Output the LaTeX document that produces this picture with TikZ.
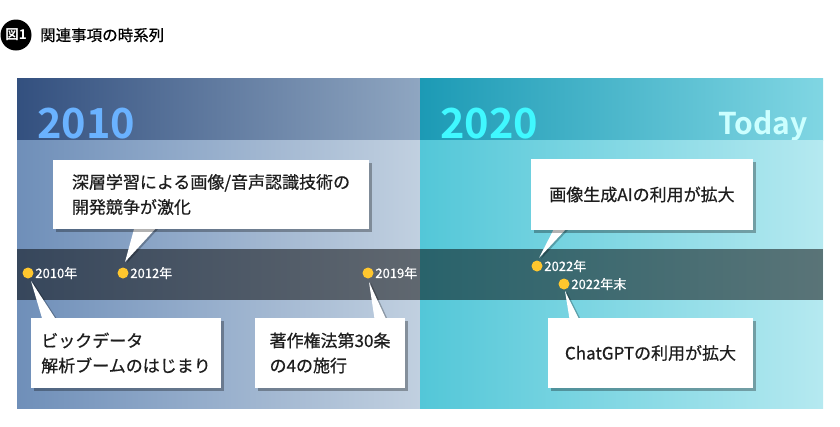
\documentclass[tikz,border=0pt]{standalone}
\usepackage{fontspec}
\setmainfont{Noto Sans CJK JP}[BoldFont={Noto Sans CJK JP Bold}]
\newfontfamily\mediumfont{Noto Sans CJK JP}[FakeBold=0.6]
\usepackage{tikz}
\usetikzlibrary{shadows}
\definecolor{hdrleftA}{HTML}{33507F}
\definecolor{hdrleftB}{HTML}{8FA6C1}
\definecolor{lowleftA}{HTML}{6F8FB9}
\definecolor{lowleftB}{HTML}{C1D0E0}
\definecolor{hdrrightA}{HTML}{1C9AB5}
\definecolor{hdrrightB}{HTML}{80D6E3}
\definecolor{lowrightA}{HTML}{53C7D8}
\definecolor{lowrightB}{HTML}{B5E9F0}
\definecolor{yearblue}{HTML}{6AB2FF}
\definecolor{yearcyan}{HTML}{40F8FF}
\definecolor{todaycyan}{HTML}{CCFFFF}
\definecolor{dotyellow}{HTML}{FFC72E}
\definecolor{notetext}{HTML}{1E1E1E}
\pgfdeclarelayer{front}
\pgfsetlayers{main,front}
\tikzset{
  decade/.style={font=\bfseries\fontsize{41.5}{42}\selectfont, inner sep=0pt},
  dot/.style={circle, fill=dotyellow, inner sep=0pt, minimum size=11pt},
  yearlbl/.style={text=white, font=\mediumfont\fontsize{13}{14}\selectfont, inner sep=1.5pt},
  notebox/.style={fill=white, text=notetext, inner sep=0pt, align=left,
    font=\mediumfont\fontsize{17}{25}\selectfont,
    drop shadow={shadow xshift=2.5pt, shadow yshift=-2.5pt, fill=black, opacity=0.3}},
  pointer/.style={fill=white,
    drop shadow={shadow xshift=2pt, shadow yshift=-1pt, fill=black, opacity=0.25}}
}
\begin{document}
\begin{tikzpicture}[line join=round,x=1pt,y=-1pt]
\useasboundingbox (0,0) rectangle (840,426);
% title
\node[circle, fill=black, minimum size=31pt, inner sep=0pt, text=white,
  font=\bfseries\fontsize{13.5}{14}\selectfont] (fignum) at (16,35) {図1};
\node[anchor=west, inner sep=0pt, font=\mediumfont\fontsize{15.5}{16}\selectfont] (figtitle) at (40,35) {関連事項の時系列};
% headers
\shade[left color=hdrleftA, right color=hdrleftB] (17,78) rectangle (420,140);
\shade[left color=hdrrightA, right color=hdrrightB] (420,78) rectangle (823,140);
\node[decade, text=yearblue, anchor=base west] (y2010) at (37,138) {2010};
\node[decade, text=yearcyan, anchor=base west] (y2020) at (440,138) {2020};
\node[anchor=base east, inner sep=0pt, text=todaycyan,
  font=\bfseries\fontsize{30}{30}\selectfont] (today) at (808,134) {Today};
% lower parts and time band
\shade[left color=lowleftA, right color=lowleftB] (17,140) rectangle (420,408);
\shade[left color=lowrightA, right color=lowrightB] (420,140) rectangle (823,408);
\fill[black, opacity=0.5] (17,249) rectangle (823,300);
% dots
\node[dot, label={[yearlbl]right:2010年}] (d2010) at (28,273) {};
\node[dot, label={[yearlbl]right:2012年}] (d2012) at (123,273) {};
\node[dot, label={[yearlbl]right:2019年}] (d2019) at (368,273) {};
\node[dot, label={[yearlbl]right:2022年}] (d2022) at (537,266) {};
\node[dot, label={[yearlbl]right:2022年末}] (d2022e) at (564,284) {};
\coordinate (t2010) at (31,281);
\coordinate (t2012) at (125,262);
\coordinate (t2019) at (369,282);
\coordinate (t2022) at (539,258);
\coordinate (t2022e) at (565,291);
% notes
\begin{pgfonlayer}{front}
\node[notebox, minimum width=316pt, minimum height=69pt] (deep) at (211,194.5) {深層学習による画像/音声認識技術の\\開発競争が激化};
\node[notebox, minimum width=190pt, minimum height=70pt] (bigdata) at (126,353) {ビックデータ\\解析ブームのはじまり};
\node[notebox, minimum width=150pt, minimum height=70pt] (copyright) at (330,353) {著作権法第30条\\の4の施行};
\node[notebox, minimum width=222pt, minimum height=71pt] (genai) at (642,194.5) {画像生成AIの利用が拡大};
\node[notebox, minimum width=205pt, minimum height=70pt] (chatgpt) at (650.5,353) {ChatGPTの利用が拡大};
\end{pgfonlayer}
\path[pointer] ([xshift=82pt,yshift=3pt]deep.south west) -- (t2012) -- ([xshift=105pt,yshift=3pt]deep.south west) -- cycle;
\path[pointer] ([xshift=12pt,yshift=-3pt]bigdata.north west) -- (t2010) -- ([xshift=26pt,yshift=-3pt]bigdata.north west) -- cycle;
\path[pointer] ([xshift=120pt,yshift=-3pt]copyright.north west) -- (t2019) -- ([xshift=132pt,yshift=-3pt]copyright.north west) -- cycle;
\path[pointer] ([xshift=24pt,yshift=3pt]genai.south west) -- (t2022) -- ([xshift=37pt,yshift=3pt]genai.south west) -- cycle;
\path[pointer] ([xshift=22pt,yshift=-3pt]chatgpt.north west) -- (t2022e) -- ([xshift=32pt,yshift=-3pt]chatgpt.north west) -- cycle;
\end{tikzpicture}
\end{document}
